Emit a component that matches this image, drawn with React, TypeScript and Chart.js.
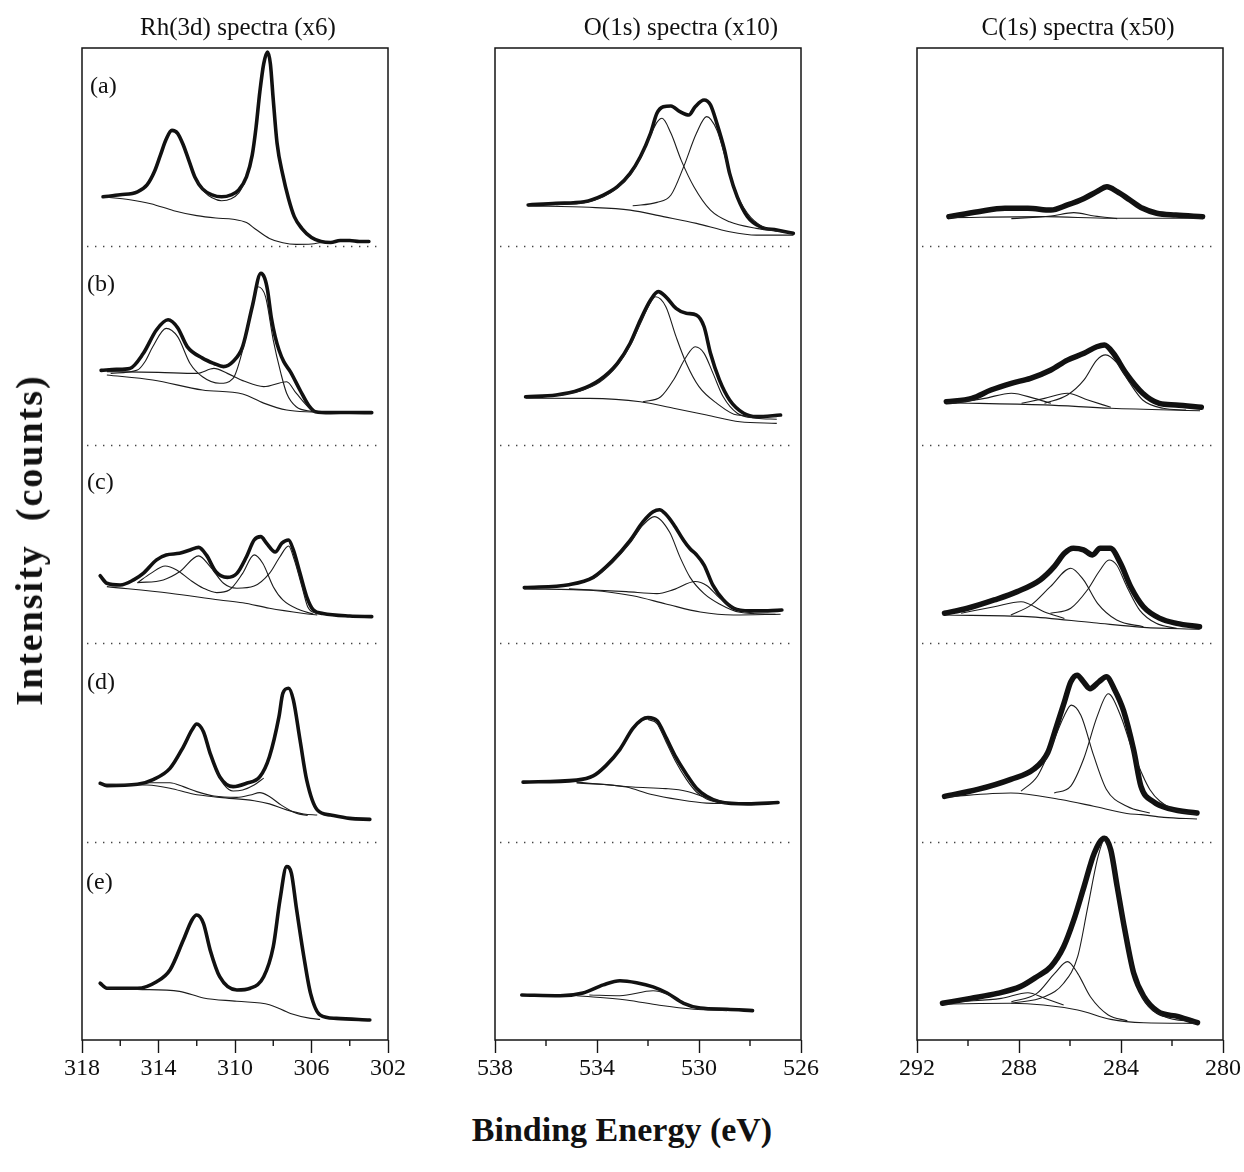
import React, { useEffect, useRef } from 'react';
import { Chart, registerables } from 'chart.js';

Chart.register(...registerables);

type Pair = [number, number];

// ---------------- texts & ticks ----------------
const panelTitles = ['Rh(3d) spectra (x6)', 'O(1s) spectra (x10)', 'C(1s) spectra (x50)'];
const spectrumLabels = ['(a)', '(b)', '(c)', '(d)', '(e)'];
const xAxisTitle = 'Binding Energy (eV)';
const yAxisTitle = 'Intensity  (counts)';

const rhTicks = [318, 314, 310, 306, 302];
const rhMinor = [316, 312, 308, 304];
const oTicks = [538, 534, 530, 526];
const oMinor = [536, 532, 528];
const cTicks = [292, 288, 284, 280];
const cMinor = [290, 286, 282];

// band offsets: (a) top ... (e) bottom ; values are [binding energy, height within band 0..100]
const bandOffsets = [4, 3, 2, 1, 0];

// ---------------- Rh(3d) ----------------
const rhA_data: Pair[] = [[316.9,25],[316.0,26],[315.1,27.5],[314.6,31],[314.2,38],[313.9,46],[313.6,54],[313.3,58.5],[313.0,57],[312.7,51],[312.4,43],[312.1,35],[311.7,29],[311.2,26],[310.7,25],[310.2,26],[309.8,28.5],[309.4,35],[309.1,46],[308.9,60],[308.7,78],[308.5,92],[308.3,98],[308.15,92],[308.0,74],[307.8,52],[307.5,36],[307.2,24],[306.9,15],[306.5,9],[306.0,4.5],[305.5,2.5],[305.0,2],[304.5,3],[304.0,3],[303.5,2.5],[303.0,2.5]];
const rhA_bg: Pair[] = [[316.9,25],[315.5,23.5],[314.4,21.5],[313.2,18],[312.0,15.5],[311.0,14.3],[310.1,13.7],[309.4,12],[308.9,8.5],[308.2,4],[307.5,1.8],[306.8,1],[306.0,1.2],[305.5,2]];
const rhA_fit: Pair[] = [[312.0,33],[311.6,27.5],[311.2,24.5],[310.7,23],[310.2,24],[309.8,27],[309.5,32]];

const rhB_data: Pair[] = [[317.0,37.5],[316.2,38],[315.5,38.5],[314.8,46],[314.1,58],[313.5,63],[313.0,59],[312.5,49.5],[311.7,43.7],[311.1,41],[310.6,39.4],[310.1,42],[309.6,49.5],[309.1,69.6],[308.65,86.4],[308.45,84],[308.3,78],[308.1,64],[307.9,54.5],[307.7,47.8],[307.45,41.9],[307.1,36.8],[306.6,27.6],[306.1,19.2],[305.8,16.7],[305.0,16.2],[304.0,16.3],[302.85,16.2]];
const rhB_bg: Pair[] = [[316.7,35.2],[314.3,32.7],[311.7,27.6],[309.6,25.6],[308.5,21],[307.3,17.5],[305.8,16.4]];
const rhB_c1: Pair[] = [[316.5,36],[315.1,37.7],[314.7,42],[314.3,49.4],[313.6,58.7],[313.0,54.5],[312.35,41],[311.7,34.3],[310.8,31],[310.1,33.5],[309.6,47.8],[309.1,69.6],[308.8,79.7],[308.4,74.6],[308.0,52.8],[307.6,36],[307.3,26],[306.8,19.2],[305.9,16.7]];
const rhB_c2: Pair[] = [[316.7,36.9],[314.0,36.5],[312.0,36],[311.1,38.5],[310.4,36],[309.5,32],[308.5,29.3],[307.3,31.8],[306.8,26],[306.1,18.4],[305.8,16.7]];

const rhC_data: Pair[] = [[317.05,34],[316.7,30.2],[316.0,29.3],[315.3,31.9],[314.8,35.2],[314.1,42],[313.6,44.5],[312.9,45.3],[312.35,47],[311.9,48.3],[311.5,44.5],[311.0,36],[310.4,33.2],[309.9,35.2],[309.4,43.6],[309.0,52],[308.65,53.7],[308.35,50.4],[307.9,46],[307.55,50.4],[307.2,52],[306.95,47],[306.6,35.2],[306.25,23.4],[305.9,16.7],[305.4,15],[304.0,13.7],[302.85,13.4]];
const rhC_bg: Pair[] = [[316.7,28.5],[313.4,25.2],[310.8,21.8],[309.6,20.4],[308.2,17.6],[306.4,15],[305.7,14.2]];
const rhC_c1: Pair[] = [[315.1,30.5],[314.4,35.2],[313.65,38.9],[313.05,36.9],[312.35,31.9],[311.65,27.7],[310.95,25.5],[310.3,26.8],[309.6,35.2],[309.0,44.5],[308.55,40.3],[308.0,28.5],[307.5,21.8],[306.6,16.7],[305.9,14.7]];
const rhC_c2: Pair[] = [[315.1,30.5],[313.75,31.9],[312.9,36],[311.9,44],[311.3,38.6],[310.6,30.2],[309.9,27.7],[309.0,28.8],[308.2,35.2],[307.65,43.6],[307.2,49],[306.9,42],[306.5,28.5],[306.2,18.4],[305.7,14.7]];

const rhD_data: Pair[] = [[317.05,29.4],[316.7,28.2],[315.1,28.9],[314.25,31.4],[313.4,36.9],[312.7,47.8],[312.25,56.3],[312.0,59.3],[311.65,55.4],[311.3,44.5],[310.8,32.7],[310.1,27.7],[309.4,29.4],[308.7,32.7],[308.2,42.8],[307.7,63],[307.5,74.7],[307.2,77.3],[306.95,71.4],[306.6,51.2],[306.25,31],[305.7,16],[305.0,13.4],[304.0,11.7],[302.95,11.2]];
const rhD_fit: Pair[] = [[311.0,36],[310.6,29],[310.1,25.5],[309.6,26],[309.0,28.5],[308.5,32]];
const rhD_c2: Pair[] = [[314.6,29.7],[313.4,29.7],[312.7,27.7],[312.0,25.2],[311.1,23],[309.9,22.3],[309.2,23.5],[308.7,24.7],[308.2,22.7],[307.6,18.5],[306.8,14.3],[306.2,13.2]];
const rhD_bg: Pair[] = [[317.05,28.9],[314.6,28.5],[313.4,26.9],[312.2,24],[310.8,22.3],[309.0,20.6],[308.2,19],[307.3,16],[306.4,13.9],[305.7,13.4]];

const rhE_data: Pair[] = [[317.05,28.6],[316.7,26.1],[315.1,26.1],[314.1,29.4],[313.4,35.3],[312.7,50.4],[312.25,60.5],[312.0,63],[311.65,58.8],[311.3,45.4],[310.8,31.9],[309.9,25.2],[309.2,26.1],[308.5,31.9],[308.0,47],[307.65,70.6],[307.3,87.4],[307.05,84],[306.8,67.2],[306.4,42],[306.05,23.5],[305.55,12.6],[304.7,10.9],[302.95,10.1]];
const rhE_bg: Pair[] = [[316.7,26],[315.1,25.5],[312.9,24.5],[311.65,21.2],[309.9,19.5],[308.2,17.8],[307.1,13.4],[306.05,10.9],[305.55,10.4]];

// ---------------- O(1s) ----------------
const oA_data: Pair[] = [[536.7,20.9],[535.6,21.7],[534.5,22.5],[533.75,25.9],[533.2,30.1],[532.7,36.8],[532.3,45.2],[531.9,57],[531.65,67.1],[531.4,70.4],[531.1,70.8],[530.75,67.9],[530.4,66.2],[530.15,70.4],[529.8,73.8],[529.55,71.3],[529.3,62],[529.0,48.6],[528.8,36.8],[528.5,25],[528.1,15],[527.6,9.9],[526.95,8.3],[526.3,6.6]];
const oA_c1: Pair[] = [[535.6,21],[534.5,22],[533.75,25],[533.2,29.5],[532.7,36],[532.3,44.5],[531.9,56],[531.65,62.5],[531.45,64.6],[531.1,57],[530.7,43.5],[530.2,30.1],[529.55,18.3],[528.8,12.4],[527.75,9.1],[526.7,7.4]];
const oA_c2: Pair[] = [[532.6,20.5],[531.65,22.2],[531.1,25.9],[530.6,40.2],[530.1,57],[529.7,65.4],[529.3,58.7],[529.05,48.6],[528.65,30.1],[528.1,16.7],[527.5,9.9],[526.4,6.6]];
const oA_bg: Pair[] = [[536.7,20.4],[534.3,19.7],[532.7,18.3],[531.4,15],[530.1,11.6],[528.8,7.4],[527.75,5.7],[526.3,5.7]];

const oB_data: Pair[] = [[536.8,24.2],[535.6,25.1],[534.7,27.6],[533.9,32.7],[533.2,41.1],[532.7,51.2],[532.3,62.9],[531.9,73],[531.6,77.2],[531.3,74.6],[530.9,68.8],[530.5,66.3],[530.1,65.4],[529.8,59.5],[529.55,46.1],[529.2,32.7],[528.8,22.6],[528.25,15.9],[527.75,14.2],[526.8,15]];
const oB_c1: Pair[] = [[535.6,24.8],[534.7,27],[533.9,31.5],[533.2,40],[532.7,50],[532.3,61],[531.95,70.5],[531.7,74.6],[531.3,69.6],[530.9,54.5],[530.5,41.1],[530.0,29.3],[529.3,20.9],[528.5,15],[526.95,14.2]];
const oB_c2: Pair[] = [[532.2,21.7],[531.5,24.2],[531.0,32.7],[530.5,44.4],[530.15,49.4],[529.8,46.1],[529.45,36],[529.05,24.2],[528.5,15.9],[527.75,13.4],[526.95,12.9]];
const oB_bg: Pair[] = [[536.8,23.5],[534.3,23.4],[532.3,21.7],[531.0,18.4],[529.7,15],[528.4,11.6],[526.95,10.8]];

const oC_data: Pair[] = [[536.85,28],[535.1,29.5],[534.15,33.2],[533.4,41.5],[532.7,51.8],[532.2,61.1],[531.8,66.2],[531.55,67.3],[531.3,65],[531.0,60],[530.6,51.8],[530.35,47.6],[530.1,44.6],[529.8,39.4],[529.45,29.1],[529.05,21.9],[528.65,17.7],[528.0,16.3],[527.3,16.3],[526.75,16.7]];
const oC_c1: Pair[] = [[534.15,32.5],[533.4,40.5],[532.7,50.5],[532.2,59.5],[531.75,63.8],[531.15,55.9],[530.75,43.5],[530.35,33.2],[529.8,25],[529.2,19.8],[528.4,15.6],[527.0,14.6]];
const oC_c2: Pair[] = [[535.1,27.4],[532.85,26],[531.65,25],[531.0,27],[530.15,31.1],[529.7,29.1],[529.2,22.9],[528.65,17.7],[527.85,15]];
const oC_bg: Pair[] = [[536.85,27.4],[534.15,26.6],[532.6,23.9],[531.3,19.8],[529.95,15.7],[528.65,14.2],[526.8,14.6]];

const oD_data: Pair[] = [[536.9,30],[534.8,31],[534.15,33.1],[533.65,38.3],[533.1,46.5],[532.6,56.9],[532.25,61.4],[532.0,62.5],[531.65,61],[531.3,52.7],[530.9,42.4],[530.5,34.1],[530.1,26.9],[529.7,22.8],[529.2,20.1],[528.1,19],[526.9,19.7]];
const oD_c1: Pair[] = [[532.0,61.5],[531.65,59.5],[531.3,50.5],[530.9,40],[530.5,31.5],[530.1,25],[529.7,21.5],[529.2,19.6]];
const oD_c2: Pair[] = [[534.8,30],[532.6,27.5],[531.3,26.7],[530.5,25.4],[529.7,22.1],[528.9,19.7]];
const oD_bg: Pair[] = [[534.8,29.6],[532.85,27.5],[531.9,23.9],[530.75,21.1],[529.7,19.4],[528.9,19.2]];

const oE_data: Pair[] = [[536.95,22.7],[535.45,22.3],[534.55,23.7],[533.75,27.8],[533.1,29.9],[532.45,28.9],[531.8,26.8],[531.25,23.7],[530.6,18.5],[529.95,16.1],[528.9,15.5],[527.9,14.8]];
const oE_c1: Pair[] = [[534.3,22.7],[533.1,22.3],[531.8,24.8],[531.25,23.1],[530.75,19.6],[530.2,16.5],[529.55,15.5]];
const oE_bg: Pair[] = [[534.8,22.3],[532.85,20.2],[531.55,17.5],[530.2,15.5],[528.9,14.8]];

// ---------------- C(1s) ----------------
const cA_data: Pair[] = [[290.75,15],[289.6,17.5],[288.55,19.2],[287.65,19.2],[286.75,18.3],[286.1,20.9],[285.45,24.2],[284.95,27.6],[284.55,30.1],[284.15,27.6],[283.65,23.4],[283.15,19.2],[282.6,16.7],[281.85,15.8],[280.8,15]];
const cA_c1: Pair[] = [[288.3,14],[286.75,15.3],[285.85,17],[285.05,15.3],[284.15,14]];
const cA_bg: Pair[] = [[290.75,14.5],[287.0,15],[284.4,14.2],[280.8,14.2]];

const cB_data: Pair[] = [[290.85,21.7],[289.85,23.4],[289.1,27.6],[288.3,31],[287.55,33.5],[286.75,37.7],[286.1,42.7],[285.45,46.1],[284.95,49.4],[284.65,50.3],[284.3,46.1],[283.8,36],[283.15,26],[282.5,20.9],[281.85,20.1],[280.85,18.9]];
const cB_c1: Pair[] = [[287.0,20.9],[286.1,25.1],[285.45,32.7],[284.95,42.7],[284.6,45.3],[284.15,41.1],[283.65,31],[283.15,22.6],[282.35,18.4],[281.45,17.5]];
const cB_c2: Pair[] = [[287.9,20.9],[287.0,23.4],[286.1,26],[285.3,22.6],[284.4,18.9]];
const cB_c3: Pair[] = [[290.65,20.9],[289.35,23.4],[288.3,26],[287.4,23.4],[286.75,20.9]];
const cB_bg: Pair[] = [[290.85,21.2],[287.0,20.1],[284.4,18.4],[280.9,17.2]];

const cC_data: Pair[] = [[290.92,15.1],[290.02,17.6],[288.97,21.8],[288.07,26],[287.17,31.9],[286.62,38.6],[286.22,45.3],[285.87,47.8],[285.47,47],[285.12,44.5],[284.82,47.8],[284.42,47.8],[284.02,40.3],[283.62,28.5],[283.12,18.4],[282.47,12.5],[281.82,10],[280.92,8.3]];
const cC_c1: Pair[] = [[286.77,15.1],[285.97,17.6],[285.32,26.8],[284.82,36.9],[284.47,41.9],[284.17,39.4],[283.77,28.5],[283.27,16.7],[282.62,10],[281.82,7.5]];
const cC_c2: Pair[] = [[288.32,14.2],[287.52,19.3],[286.77,28.5],[285.97,37.8],[285.47,31.9],[284.92,20.1],[284.17,11.7],[283.12,8.3]];
const cC_c3: Pair[] = [[290.27,15.1],[288.97,18.4],[287.92,20.9],[287.02,15.9],[286.22,12.5]];
const cC_bg: Pair[] = [[290.92,14.2],[287.67,13.4],[285.07,10.3],[283.12,8],[280.92,7]];

const cD_data: Pair[] = [[290.92,22.8],[289.62,26.3],[288.32,31.4],[287.42,36.5],[286.87,44.9],[286.52,58.5],[286.22,70.4],[285.97,80.5],[285.72,83.9],[285.47,80.5],[285.22,77.1],[284.87,80.5],[284.57,83.1],[284.27,77.1],[283.9,66],[283.5,46],[283.22,28],[282.72,20],[282.07,16.5],[281.02,14.4]];
const cD_c1: Pair[] = [[286.62,24.5],[285.97,28],[285.47,41.5],[284.92,63.6],[284.5,74.5],[284.02,63.6],[283.52,44.9],[282.87,26.3],[282.07,16.9],[281.02,13.6]];
const cD_c2: Pair[] = [[287.92,25.4],[287.27,33.1],[286.77,46.7],[286.22,63.6],[285.95,68.8],[285.57,63.6],[285.07,43.3],[284.57,26.3],[283.77,17.8],[282.87,14.4]];
const cD_bg: Pair[] = [[290.92,22.5],[288.32,24.5],[286.37,21.2],[285.07,17.8],[283.77,14.2],[283.2,13.6],[282.32,12.2],[281.02,11.4]];

const cE_data: Pair[] = [[291.0,18.5],[289.9,21],[288.85,23.5],[287.95,26.9],[287.3,31.9],[286.75,37],[286.25,47],[285.85,60.5],[285.45,77.3],[285.05,94.1],[284.65,101.7],[284.4,95.8],[284.15,77.3],[283.85,55.4],[283.5,33.6],[283.1,21.8],[282.55,14.3],[281.75,11.8],[281.0,8.7]];
const cE_c1: Pair[] = [[288.3,18.5],[287.0,21.8],[286.25,28.6],[285.7,42],[285.3,67.2],[284.9,92.4],[284.65,100.8],[284.25,85.7],[283.85,57.1],[283.5,33.6],[283.1,20.2],[282.3,11.8],[281.1,9.2]];
const cE_c2: Pair[] = [[288.3,19.3],[287.3,23.5],[286.6,33.6],[286.1,39.5],[285.7,33.6],[285.2,21.8],[284.5,12.6],[283.75,9.7]];
const cE_c3: Pair[] = [[290.3,19.3],[288.7,21],[287.65,23.8],[287.0,21],[286.25,17.6]];
const cE_bg: Pair[] = [[291.0,18.1],[288.3,18.5],[285.7,15.1],[284.4,10.4],[283.1,8.7],[281.1,8.4]];

// ---------------- panel assembly ----------------
type Spectrum = { data: Pair[]; fits: Pair[][] };

const rhSpectra: Spectrum[] = [
  { data: rhA_data, fits: [rhA_bg, rhA_fit] },
  { data: rhB_data, fits: [rhB_bg, rhB_c1, rhB_c2] },
  { data: rhC_data, fits: [rhC_bg, rhC_c1, rhC_c2] },
  { data: rhD_data, fits: [rhD_bg, rhD_c2, rhD_fit] },
  { data: rhE_data, fits: [rhE_bg] },
];
const oSpectra: Spectrum[] = [
  { data: oA_data, fits: [oA_bg, oA_c1, oA_c2] },
  { data: oB_data, fits: [oB_bg, oB_c1, oB_c2] },
  { data: oC_data, fits: [oC_bg, oC_c1, oC_c2] },
  { data: oD_data, fits: [oD_bg, oD_c1, oD_c2] },
  { data: oE_data, fits: [oE_bg, oE_c1] },
];
const cSpectra: Spectrum[] = [
  { data: cA_data, fits: [cA_bg, cA_c1] },
  { data: cB_data, fits: [cB_bg, cB_c1, cB_c2, cB_c3] },
  { data: cC_data, fits: [cC_bg, cC_c1, cC_c2, cC_c3] },
  { data: cD_data, fits: [cD_bg, cD_c1, cD_c2] },
  { data: cE_data, fits: [cE_bg, cE_c1, cE_c2, cE_c3] },
];

const PLOT_TOP = 48;
const PLOT_BOTTOM = 1040;
const CANVAS_H = 1100;
const PLOT_W = 306;
const PAD_L = 40;
const PAD_R = 20;
const SERIF = '"Liberation Serif", "Times New Roman", Times, serif';

const framePlugin = {
  id: 'xpsFrame',
  beforeDatasetsDraw(chart: any) {
    const { ctx, chartArea: a, scales } = chart;
    ctx.save();
    ctx.strokeStyle = '#444';
    ctx.lineWidth = 1.3;
    ctx.setLineDash([1.4, 6.6]);
    [1, 2, 3, 4].forEach((v) => {
      const py = Math.round(scales.y.getPixelForValue(v)) + 0.5;
      ctx.beginPath();
      ctx.moveTo(a.left + 5, py);
      ctx.lineTo(a.right - 5, py);
      ctx.stroke();
    });
    ctx.restore();
  },
  afterDraw(chart: any, _args: any, opts: any) {
    const { ctx, chartArea: a, scales } = chart;
    ctx.save();
    ctx.strokeStyle = '#151515';
    ctx.lineWidth = 1.5;
    ctx.strokeRect(a.left, a.top, a.right - a.left, a.bottom - a.top);
    ctx.lineWidth = 1.4;
    (opts.minor || []).forEach((v: number) => {
      const px = scales.x.getPixelForValue(v);
      ctx.beginPath();
      ctx.moveTo(px, a.bottom);
      ctx.lineTo(px, a.bottom + 6);
      ctx.stroke();
    });
    ctx.restore();
  },
};

function toPoints(arr: Pair[], band: number) {
  return arr.map(([e, l]) => ({ x: e, y: band + l / 100 }));
}

type PanelProps = {
  left: number;
  min: number;
  max: number;
  ticks: number[];
  minor: number[];
  spectra: Spectrum[];
  dataWidth: number;
};

function Panel({ left, min, max, ticks, minor, spectra, dataWidth }: PanelProps) {
  const ref = useRef<HTMLCanvasElement>(null);
  const W = PLOT_W + PAD_L + PAD_R;
  useEffect(() => {
    if (!ref.current) return;
    const datasets: any[] = [];
    spectra.forEach((s, i) => {
      const band = bandOffsets[i];
      s.fits.forEach((f) => {
        datasets.push({
          data: toPoints(f, band),
          borderColor: '#1c1c1c',
          borderWidth: 1.1,
          pointRadius: 0,
          cubicInterpolationMode: 'monotone',
          order: 0,
        });
      });
      datasets.push({
        data: toPoints(s.data, band),
        borderColor: '#111111',
        borderWidth: dataWidth,
        pointRadius: 0,
        borderJoinStyle: 'round',
        borderCapStyle: 'round',
        cubicInterpolationMode: 'monotone',
        order: 1,
      });
    });
    const chart = new Chart(ref.current, {
      type: 'line',
      data: { datasets },
      options: {
        animation: false,
        responsive: false,
        maintainAspectRatio: false,
        devicePixelRatio: 1,
        events: [],
        layout: { padding: { left: PAD_L, right: PAD_R, top: PLOT_TOP, bottom: 0 } },
        plugins: {
          legend: { display: false },
          tooltip: { enabled: false },
          title: { display: false },
          xpsFrame: { minor },
        } as any,
        scales: {
          x: {
            type: 'linear',
            min,
            max,
            reverse: true,
            afterFit: (scale: any) => {
              scale.height = CANVAS_H - PLOT_BOTTOM;
            },
            afterBuildTicks: (scale: any) => {
              scale.ticks = ticks.map((v) => ({ value: v }));
            },
            grid: {
              display: true,
              drawOnChartArea: false,
              drawTicks: true,
              tickLength: 13,
              tickColor: '#151515',
              tickWidth: 1.4,
            },
            border: { display: false },
            ticks: {
              autoSkip: false,
              maxRotation: 0,
              padding: 1,
              color: '#111',
              font: { family: SERIF, size: 24 },
              callback: (v: any) => String(v),
            },
          },
          y: { type: 'linear', min: 0, max: 5, display: false },
        },
      } as any,
      plugins: [framePlugin],
    });
    return () => chart.destroy();
  }, []);
  return (
    <canvas
      ref={ref}
      width={W}
      height={CANVAS_H}
      style={{ position: 'absolute', left: left - PAD_L, top: 0, width: W, height: CANVAS_H }}
    />
  );
}

const panelLefts = [82, 495, 917];
const titleCenters = [238, 681, 1078];
const labelPos = [
  { x: 90, y: 73 },
  { x: 87, y: 271 },
  { x: 87, y: 469 },
  { x: 87, y: 669 },
  { x: 86, y: 869 },
];

export default function App() {
  return (
    <div
      style={{
        position: 'absolute',
        left: 0,
        top: 0,
        width: 1244,
        height: 1172,
        overflow: 'hidden',
        background: '#ffffff',
        fontFamily: SERIF,
        color: '#111',
      }}
    >
      <Panel left={panelLefts[0]} min={302} max={318} ticks={rhTicks} minor={rhMinor} spectra={rhSpectra} dataWidth={3.6} />
      <Panel left={panelLefts[1]} min={526} max={538} ticks={oTicks} minor={oMinor} spectra={oSpectra} dataWidth={3.6} />
      <Panel left={panelLefts[2]} min={280} max={292} ticks={cTicks} minor={cMinor} spectra={cSpectra} dataWidth={5.5} />
      {panelTitles.map((t, i) => (
        <div
          key={t}
          style={{
            position: 'absolute',
            left: titleCenters[i],
            top: 14,
            transform: 'translateX(-50%)',
            fontSize: 25,
            lineHeight: '25px',
            whiteSpace: 'nowrap',
          }}
        >
          {t}
        </div>
      ))}
      {spectrumLabels.map((t, i) => (
        <div
          key={t}
          style={{
            position: 'absolute',
            left: labelPos[i].x,
            top: labelPos[i].y,
            fontSize: 24,
            lineHeight: '24px',
            whiteSpace: 'nowrap',
          }}
        >
          {t}
        </div>
      ))}
      <div
        style={{
          position: 'absolute',
          left: 29,
          top: 540,
          transform: 'translate(-50%, -50%) rotate(-90deg)',
          fontWeight: 'bold',
          fontSize: 38,
          lineHeight: '38px',
          letterSpacing: 2,
          whiteSpace: 'pre',
        }}
      >
        {yAxisTitle}
      </div>
      <div
        style={{
          position: 'absolute',
          left: 622,
          top: 1110,
          transform: 'translateX(-50%)',
          fontWeight: 'bold',
          fontSize: 34,
          lineHeight: '40px',
          whiteSpace: 'nowrap',
        }}
      >
        {xAxisTitle}
      </div>
    </div>
  );
}
